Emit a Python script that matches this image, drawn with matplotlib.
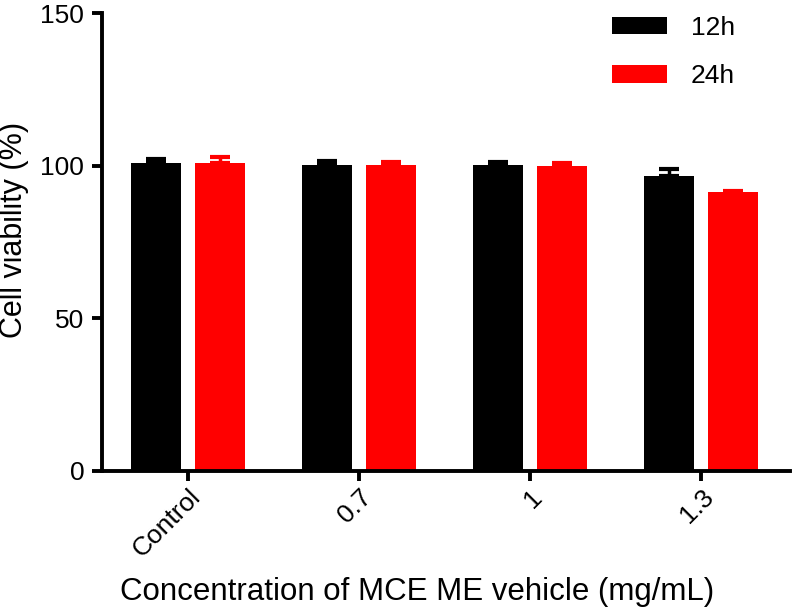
import matplotlib
matplotlib.use("Agg")
import matplotlib.pyplot as plt
import matplotlib.transforms as mtransforms
import numpy as np

plt.rcParams['font.family'] = ['Liberation Sans', 'DejaVu Sans']

groups = ["Control", "0.7", "1", "1.3"]
vals_12h = [100.8, 100.3, 100.3, 96.7]
err_12h = [1.3, 1.2, 1.0, 2.4]
vals_24h = [100.8, 100.3, 100.1, 91.3]
err_24h = [2.2, 0.9, 0.8, 0.4]

fig = plt.figure(figsize=(7.94, 6.12), dpi=100)
ax = fig.add_axes([0.129, 0.2304, 0.866, 0.748])

x = np.arange(len(groups))
w = 0.29
off = 0.187

ax.bar(x - off, vals_12h, w, color="black", label="12h", zorder=2)
ax.bar(x + off, vals_24h, w, color="red", label="24h", zorder=2)
ax.errorbar(x - off, vals_12h, yerr=[np.zeros(4), err_12h], fmt="none",
            ecolor="black", elinewidth=2.5, capsize=7.5, capthick=3, zorder=3)
ax.errorbar(x + off, vals_24h, yerr=[np.zeros(4), err_24h], fmt="none",
            ecolor="red", elinewidth=2.5, capsize=7.5, capthick=3, zorder=3)

ax.set_xlim(-0.5, 3.52)
ax.set_ylim(0, 150)
ax.set_yticks([0, 50, 100, 150])
ax.set_xticks(x)
ax.set_xticklabels(groups, rotation=45, ha="right", rotation_mode="anchor")
shift = mtransforms.ScaledTranslation(5 / 100, 0, fig.dpi_scale_trans)
for lbl in ax.get_xticklabels():
    lbl.set_transform(lbl.get_transform() + shift)

for s in ["top", "right"]:
    ax.spines[s].set_visible(False)
for s in ["left", "bottom"]:
    ax.spines[s].set_linewidth(2.8)
ax.tick_params(axis="both", width=2.8, length=7, labelsize=19)
ax.tick_params(axis="y", pad=6)
ax.tick_params(axis="x", pad=3)

fig.text(0.018, 0.624, "Cell viability (%)", fontsize=22, rotation=90,
         ha="center", va="center")
fig.text(0.525, 0.033, "Concentration of MCE ME vehicle (mg/mL)", fontsize=22.5,
         ha="center", va="center")

ax.legend(loc="upper left", bbox_to_anchor=(0.706, 1.046), frameon=False, fontsize=19,
          handlelength=2.1, handleheight=0.64, handletextpad=0.9, labelspacing=0.93)

fig.savefig("out.png", dpi=100)
